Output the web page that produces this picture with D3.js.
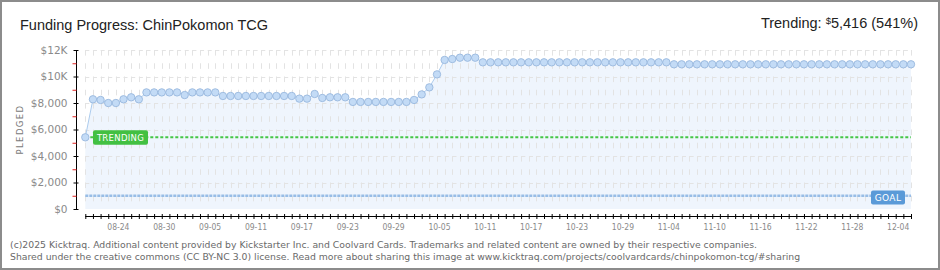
<!DOCTYPE html>
<html>
<head>
<meta charset="utf-8">
<script src="https://cdn.jsdelivr.net/npm/d3@7"></script>
<style>
  html, body { margin: 0; padding: 0; background: #fff; }
  svg { display: block; }
</style>
</head>
<body>
<svg id="chart" width="940" height="270"></svg>
<script>
// ---------- data ----------
const title = "Funding Progress: ChinPokomon TCG";
const startDate = "2025-08-20";
const pledged = [
  5410,
  8280, 8230, 8000, 8000, 8280, 8430, 8280,
  8800, 8800, 8800, 8800, 8800,
  8600,
  8800, 8800, 8800, 8800,
  8530, 8530, 8530, 8530, 8530, 8530, 8530, 8530, 8530, 8530,
  8330, 8330,
  8680,
  8380,
  8430, 8430, 8430,
  8080, 8080, 8080, 8080, 8080, 8080, 8080, 8080,
  8230, 8650, 9180, 10160, 11250, 11320, 11420, 11420, 11420,
  11070, 11070, 11070, 11070, 11070, 11070, 11070, 11070, 11070, 11070,
  11070, 11070, 11070, 11070, 11070, 11070, 11070, 11070, 11070, 11070,
  11070, 11070, 11070, 11070, 11070,
  10920, 10920, 10920, 10920, 10920, 10920, 10920, 10920, 10920, 10920,
  10920, 10920, 10920, 10920, 10920, 10920, 10920, 10920, 10920, 10920,
  10920, 10920, 10920, 10920, 10920, 10920, 10920, 10920, 10920, 10920,
  10920, 10920
];
const goal = 1000;
const trending = 5416;
const trendingPct = 541;
const xTickLabels = ["08-24","08-30","09-05","09-11","09-17","09-23","09-29","10-05","10-11",
                     "10-17","10-23","10-29","11-04","11-10","11-16","11-22","11-28","12-04"];
const yTickValues = [0, 2000, 4000, 6000, 8000, 10000, 12000];
const yTickLabels = ["$0", "$2,000", "$4,000", "$6,000", "$8,000", "$10K", "$12K"];
const yMinorValues = [1000, 3000, 5000, 7000, 9000, 11000];
const footer1 = "(c)2025 Kicktraq. Additional content provided by Kickstarter Inc. and Coolvard Cards. Trademarks and related content are owned by their respective companies.";
const footer2 = "Shared under the creative commons (CC BY-NC 3.0) license. Read more about sharing this image at www.kicktraq.com/projects/coolvardcards/chinpokomon-tcg/#sharing";

// ---------- setup ----------
const svg = d3.select("#chart");
const W = 940, H = 270;
const plot = { left: 85.3, right: 911, top: 50, bottom: 209 };

const parse = d3.utcParse("%Y-%m-%d");
const d0 = parse(startDate);
const dates = pledged.map((_, i) => d3.utcDay.offset(d0, i));
const data = pledged.map((v, i) => ({ date: dates[i], value: v }));
const year = startDate.slice(0, 4);
const labelDates = xTickLabels.map(s => parse(year + "-" + s));

const x = d3.scaleUtc().domain([dates[0], dates[dates.length - 1]]).range([plot.left, plot.right]);
const y = d3.scaleLinear().domain([0, 12000]).range([plot.bottom, plot.top]);

const sansFont = "'DejaVu Sans', Verdana, sans-serif";
const titleFont = "'Liberation Sans', Arial, sans-serif";

// background + border
svg.append("rect").attr("x", 1).attr("y", 1).attr("width", W - 2).attr("height", H - 2)
  .attr("fill", "#fff").attr("stroke", "#8c8c8c").attr("stroke-width", 2);

// ---------- area fill ----------
svg.append("path").datum(data)
  .attr("fill", "#eff5fd")
  .attr("d", d3.area().x(d => x(d.date)).y0(y(0)).y1(d => y(d.value)));

// ---------- grid ----------
const grid = svg.append("g").attr("stroke", "#e3e3e3").attr("stroke-width", 1).attr("fill", "none");
grid.selectAll("line.v").data(dates).join("line")
  .attr("x1", d => Math.round(x(d)) + 0.5).attr("x2", d => Math.round(x(d)) + 0.5)
  .attr("y1", y(12000)).attr("y2", y(0))
  .attr("stroke-dasharray", "5.6,7.65");
grid.selectAll("line.h").data(yTickValues.filter(v => v > 0)).join("line")
  .attr("x1", plot.left).attr("x2", plot.right)
  .attr("y1", d => Math.round(y(d)) + 0.5).attr("y2", d => Math.round(y(d)) + 0.5)
  .attr("stroke-dasharray", "4,3.65");

// ---------- goal line ----------
svg.append("line")
  .attr("x1", plot.left).attr("x2", plot.right)
  .attr("y1", y(goal)).attr("y2", y(goal))
  .attr("stroke", "#98bde6").attr("stroke-width", 2.5).attr("stroke-dasharray", "3,1");

// ---------- trending line ----------
svg.append("line")
  .attr("x1", plot.left).attr("x2", plot.right)
  .attr("y1", y(trending)).attr("y2", y(trending))
  .attr("stroke", "#46c646").attr("stroke-width", 2).attr("stroke-dasharray", "3,2");

// ---------- data line + points ----------
svg.append("path").datum(data)
  .attr("fill", "none").attr("stroke", "#acccee").attr("stroke-width", 1)
  .attr("d", d3.line().x(d => x(d.date)).y(d => y(d.value)));

svg.append("g").selectAll("circle").data(data).join("circle")
  .attr("cx", d => x(d.date)).attr("cy", d => y(d.value)).attr("r", 3.7)
  .attr("fill", "#c3dbf6").attr("stroke", "#98b8de").attr("stroke-width", 0.9);

// ---------- labels on lines ----------
const trendY = y(trending);
const tg = svg.append("g");
tg.append("rect").attr("x", plot.left + 7.7).attr("y", trendY - 7).attr("width", 55).attr("height", 14.5)
  .attr("rx", 2).attr("fill", "#42c042");
tg.append("text").attr("x", plot.left + 7.7 + 27.5).attr("y", trendY + 3.4)
  .attr("text-anchor", "middle").attr("fill", "#fff")
  .attr("font-family", sansFont).attr("font-size", 8.5).attr("letter-spacing", 0.3)
  .text("TRENDING");

const goalY = y(goal);
const gg = svg.append("g");
gg.append("rect").attr("x", plot.right - 40).attr("y", goalY - 5.3).attr("width", 34).attr("height", 14)
  .attr("rx", 2).attr("fill", "#5a9ad8");
gg.append("text").attr("x", plot.right - 23).attr("y", goalY + 5)
  .attr("text-anchor", "middle").attr("fill", "#fff")
  .attr("font-family", sansFont).attr("font-size", 9).attr("letter-spacing", 0.4)
  .text("GOAL");

// ---------- y axis ----------
const yAxis = svg.append("g").attr("transform", "translate(76.5,0)")
  .call(d3.axisLeft(y).tickValues(yTickValues).tickFormat((d, i) => yTickLabels[i]).tickSizeOuter(0).tickSize(3).tickPadding(6));
yAxis.select(".domain").attr("stroke", "#000").attr("d", `M0,${y(12000)}V${y(0) + 1}`);
yAxis.selectAll(".tick line").attr("stroke", "#000").attr("x1", 2);
yAxis.selectAll(".tick text").attr("fill", "#8a8a8a").attr("font-family", sansFont).attr("font-size", 10.5);

const yMinor = svg.append("g").attr("transform", "translate(76.5,0)")
  .call(d3.axisLeft(y).tickValues(yMinorValues).tickFormat("").tickSize(4));
yMinor.select(".domain").remove();
yMinor.selectAll(".tick line").attr("stroke", "#e02020");

// y title
svg.append("text")
  .attr("transform", `translate(23,${(y(6000))}) rotate(-90)`)
  .attr("text-anchor", "middle").attr("fill", "#7a7a7a")
  .attr("font-family", sansFont).attr("font-size", 8.5).attr("letter-spacing", 1.4)
  .text("PLEDGED");

// ---------- x axis ----------
const labelSet = new Set(labelDates.map(d => +d));
const xAxis = svg.append("g").attr("transform", "translate(0,216.5)")
  .call(d3.axisBottom(x).tickValues(dates)
    .tickFormat(d => labelSet.has(+d) ? xTickLabels[labelDates.findIndex(l => +l === +d)] : "")
    .tickSizeOuter(0).tickSize(2.5).tickPadding(5));
xAxis.select(".domain").attr("stroke", "#000").attr("d", `M${plot.left},0H${plot.right}`);
xAxis.selectAll(".tick line").attr("stroke", "#000").attr("y1", -2.5);
xAxis.selectAll(".tick text").attr("fill", "#8a8a8a").attr("font-family", "'DejaVu Sans Condensed', 'DejaVu Sans', sans-serif")
  .attr("font-size", 8.5).attr("dx", 2);

// ---------- title ----------
svg.append("text").attr("x", 20).attr("y", 30)
  .attr("fill", "#222").attr("font-family", titleFont).attr("font-size", 15.5)
  .attr("textLength", 248).attr("lengthAdjust", "spacingAndGlyphs")
  .text(title);

const tr = svg.append("text").attr("x", 918).attr("y", 28).attr("text-anchor", "end")
  .attr("fill", "#222").attr("font-family", titleFont).attr("font-size", 14.5);
tr.append("tspan").text("Trending:  ");
tr.append("tspan").attr("font-size", 9.5).attr("dy", -4).text("$");
tr.append("tspan").attr("dy", 4).text(d3.format(",")(trending) + " (" + trendingPct + "%)");

// ---------- footer ----------
svg.append("text").attr("x", 10).attr("y", 248)
  .attr("fill", "#6a6a6a").attr("font-family", sansFont).attr("font-size", 9.3)
  .text(footer1);
svg.append("text").attr("x", 10).attr("y", 259.5)
  .attr("fill", "#6a6a6a").attr("font-family", sansFont).attr("font-size", 9.3)
  .text(footer2);
</script>
</body>
</html>
